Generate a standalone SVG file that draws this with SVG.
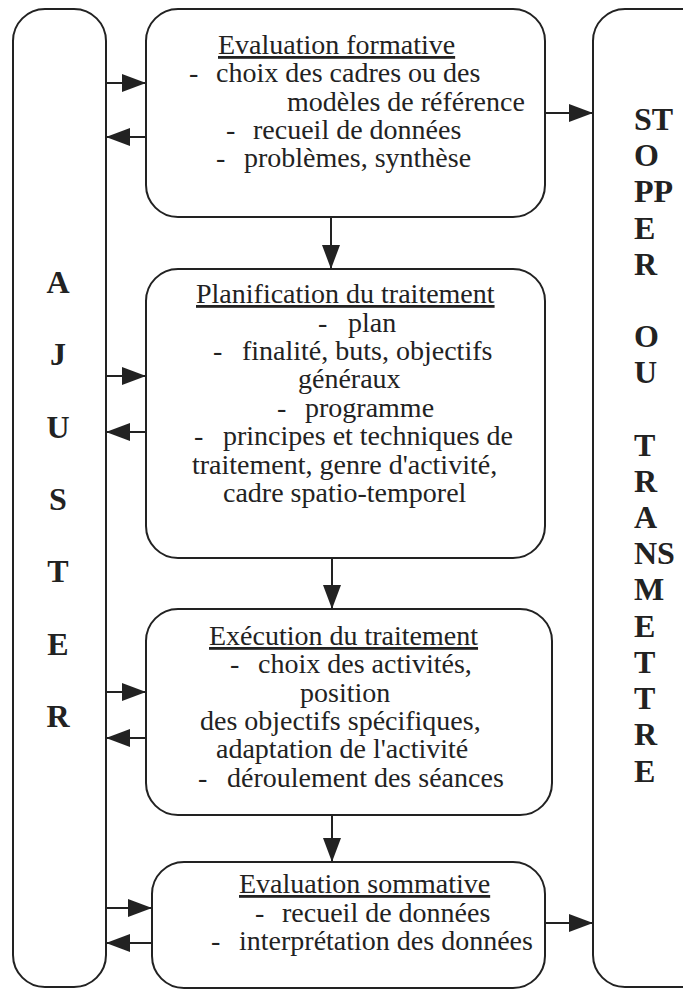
<svg xmlns="http://www.w3.org/2000/svg" width="683" height="989" viewBox="0 0 683 989">
<style>
.box{fill:#fff;stroke:#222;stroke-width:2}
.t{font-size:28px;fill:#222}
.h{text-decoration:underline}
.b{font-size:32px;font-weight:bold;fill:#222}
.c{stroke:#222;stroke-width:2;fill:none;marker-end:url(#ah)}
.f{font-family:'Liberation Serif','Times New Roman',Times,Tinos,'Noto Serif','DejaVu Serif',serif}
</style>
<defs>
<marker id="ah" markerUnits="userSpaceOnUse" markerWidth="24" markerHeight="18" refX="24" refY="9" orient="auto">
<path d="M0,0 L24,9 L0,18 z" fill="#222"/>
</marker>
</defs>
<rect width="683" height="989" fill="#fff"/>
<g class="f">
<g id="ajuster">
<rect class="box" x="13" y="9" width="93" height="978" rx="32"/>
<g class="b" text-anchor="middle">
<text x="58" y="293">A</text>
<text x="58" y="365">J</text>
<text x="58" y="438">U</text>
<text x="58" y="510">S</text>
<text x="58" y="582">T</text>
<text x="58" y="655">E</text>
<text x="58" y="727">R</text>
</g>
</g>
<g id="stopper">
<rect class="box" x="593" y="9" width="140" height="978" rx="32"/>
<g class="b">
<text x="634" y="130">ST</text>
<text x="634" y="166">O</text>
<text x="634" y="202">PP</text>
<text x="634" y="239">E</text>
<text x="634" y="275">R</text>
<text x="634" y="347">O</text>
<text x="634" y="383">U</text>
<text x="634" y="456">T</text>
<text x="634" y="492">R</text>
<text x="634" y="528">A</text>
<text x="634" y="564">NS</text>
<text x="634" y="600">M</text>
<text x="634" y="637">E</text>
<text x="634" y="673">T</text>
<text x="634" y="709">T</text>
<text x="634" y="745">R</text>
<text x="634" y="782">E</text>
</g>
</g>
<g id="eval-formative">
<rect class="box" x="146" y="9" width="399" height="208" rx="32"/>
<text class="t h" x="218" y="54">Evaluation formative</text>
<text class="t" y="82"><tspan x="189">-</tspan><tspan x="216">choix des cadres ou des</tspan></text>
<text class="t" x="287" y="111">modèles de référence</text>
<text class="t" y="139"><tspan x="226">-</tspan><tspan x="253">recueil de données</tspan></text>
<text class="t" y="167"><tspan x="216">-</tspan><tspan x="244">problèmes, synthèse</tspan></text>
</g>
<g id="planification">
<rect class="box" x="146" y="269" width="399" height="289" rx="32"/>
<text class="t h" x="196" y="303">Planification du traitement</text>
<text class="t" y="332"><tspan x="318">-</tspan><tspan x="348">plan</tspan></text>
<text class="t" y="360"><tspan x="213">-</tspan><tspan x="242">finalité, buts, objectifs</tspan></text>
<text class="t" x="298" y="388">généraux</text>
<text class="t" y="417"><tspan x="277">-</tspan><tspan x="305">programme</tspan></text>
<text class="t" y="445"><tspan x="194">-</tspan><tspan x="223">principes et techniques de</tspan></text>
<text class="t" x="192" y="474">traitement, genre d'activité,</text>
<text class="t" x="223" y="502">cadre spatio-temporel</text>
</g>
<g id="execution">
<rect class="box" x="146" y="609" width="406" height="206" rx="32"/>
<text class="t h" x="209" y="645">Exécution du traitement</text>
<text class="t" y="673"><tspan x="230">-</tspan><tspan x="258">choix des activités,</tspan></text>
<text class="t" x="300" y="702">position</text>
<text class="t" x="200" y="730">des objectifs spécifiques,</text>
<text class="t" x="216" y="758">adaptation de l'activité</text>
<text class="t" y="787"><tspan x="198">-</tspan><tspan x="227">déroulement des séances</tspan></text>
</g>
<g id="eval-sommative">
<rect class="box" x="152" y="862" width="393" height="126" rx="32"/>
<text class="t h" x="239" y="893">Evaluation sommative</text>
<text class="t" y="922"><tspan x="255">-</tspan><tspan x="282">recueil de données</tspan></text>
<text class="t" y="950"><tspan x="211">-</tspan><tspan x="239">interprétation des données</tspan></text>
</g>
</g>
<g id="connectors">
<line class="c" x1="106" y1="83" x2="146" y2="83"/>
<line class="c" x1="146" y1="137" x2="106" y2="137"/>
<line class="c" x1="545" y1="113" x2="593" y2="113"/>
<line class="c" x1="331" y1="217" x2="331" y2="269"/>
<line class="c" x1="106" y1="376" x2="146" y2="376"/>
<line class="c" x1="146" y1="432" x2="106" y2="432"/>
<line class="c" x1="332" y1="558" x2="332" y2="609"/>
<line class="c" x1="106" y1="692" x2="146" y2="692"/>
<line class="c" x1="146" y1="738" x2="106" y2="738"/>
<line class="c" x1="332" y1="815" x2="332" y2="862"/>
<line class="c" x1="106" y1="908" x2="152" y2="908"/>
<line class="c" x1="152" y1="943" x2="106" y2="943"/>
<line class="c" x1="545" y1="923" x2="593" y2="923"/>
</g>
</svg>
